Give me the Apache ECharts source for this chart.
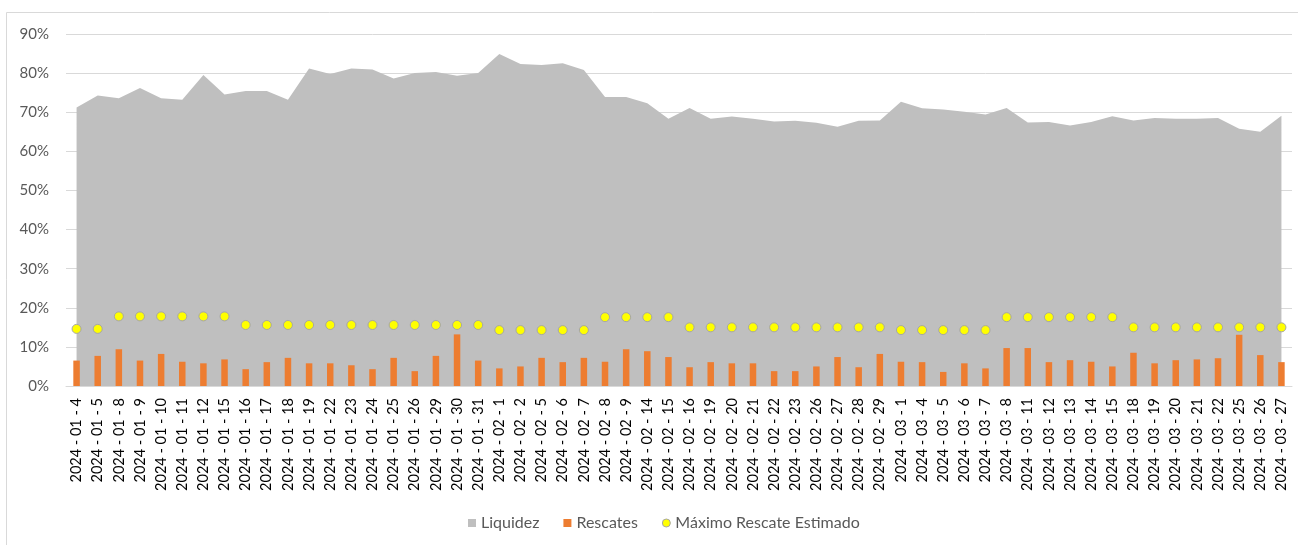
<!DOCTYPE html>
<html>
<head>
<meta charset="utf-8">
<script src="https://cdn.jsdelivr.net/npm/echarts@6/dist/echarts.min.js"></script>
<style>
  html, body { margin: 0; padding: 0; background: #fff; }
  #chart { width: 1298px; height: 545px; }
</style>
</head>
<body>
<div id="chart"></div>
<script>
// fechas (eje x)
const fechas = [
  '2024 - 01 - 4', '2024 - 01 - 5', '2024 - 01 - 8', '2024 - 01 - 9', '2024 - 01 - 10',
  '2024 - 01 - 11', '2024 - 01 - 12', '2024 - 01 - 15', '2024 - 01 - 16', '2024 - 01 - 17',
  '2024 - 01 - 18', '2024 - 01 - 19', '2024 - 01 - 22', '2024 - 01 - 23', '2024 - 01 - 24',
  '2024 - 01 - 25', '2024 - 01 - 26', '2024 - 01 - 29', '2024 - 01 - 30', '2024 - 01 - 31',
  '2024 - 02 - 1', '2024 - 02 - 2', '2024 - 02 - 5', '2024 - 02 - 6', '2024 - 02 - 7',
  '2024 - 02 - 8', '2024 - 02 - 9', '2024 - 02 - 14', '2024 - 02 - 15', '2024 - 02 - 16',
  '2024 - 02 - 19', '2024 - 02 - 20', '2024 - 02 - 21', '2024 - 02 - 22', '2024 - 02 - 23',
  '2024 - 02 - 26', '2024 - 02 - 27', '2024 - 02 - 28', '2024 - 02 - 29', '2024 - 03 - 1',
  '2024 - 03 - 4', '2024 - 03 - 5', '2024 - 03 - 6', '2024 - 03 - 7', '2024 - 03 - 8',
  '2024 - 03 - 11', '2024 - 03 - 12', '2024 - 03 - 13', '2024 - 03 - 14', '2024 - 03 - 15',
  '2024 - 03 - 18', '2024 - 03 - 19', '2024 - 03 - 20', '2024 - 03 - 21', '2024 - 03 - 22',
  '2024 - 03 - 25', '2024 - 03 - 26', '2024 - 03 - 27'
]

// liquidez (%)
const liquidez = [
  71.2, 74.3, 73.6, 76.2, 73.6, 73.2, 79.5, 74.5, 75.4, 75.4,
  73.2, 81.2, 79.8, 81.2, 80.9, 78.6, 80.0, 80.3, 79.3, 80.0,
  84.9, 82.3, 82.1, 82.5, 80.8, 73.9, 73.9, 72.3, 68.3, 71.1,
  68.3, 68.9, 68.3, 67.6, 67.8, 67.3, 66.3, 67.8, 67.9, 72.7,
  71.0, 70.7, 70.1, 69.4, 71.1, 67.4, 67.5, 66.6, 67.5, 69.0,
  67.9, 68.5, 68.3, 68.3, 68.5, 65.8, 65.0, 69.1
]

// rescates (%)
const rescates = [
  6.5, 7.7, 9.4, 6.5, 8.2, 6.2, 5.8, 6.8, 4.3, 6.1,
  7.2, 5.8, 5.8, 5.3, 4.3, 7.2, 3.8, 7.7, 13.2, 6.5,
  4.5, 5.0, 7.2, 6.1, 7.2, 6.2, 9.4, 8.9, 7.4, 4.8,
  6.1, 5.8, 5.8, 3.8, 3.8, 5.0, 7.4, 4.8, 8.2, 6.2,
  6.1, 3.6, 5.8, 4.5, 9.7, 9.7, 6.1, 6.6, 6.2, 5.0,
  8.5, 5.8, 6.6, 6.8, 7.1, 13.1, 7.9, 6.1
]

// máximo rescate estimado (%)
const maxRescate = [
  14.6, 14.6, 17.8, 17.8, 17.8, 17.8, 17.8, 17.8, 15.6, 15.6,
  15.6, 15.6, 15.6, 15.6, 15.6, 15.6, 15.6, 15.6, 15.6, 15.6,
  14.3, 14.3, 14.3, 14.3, 14.3, 17.6, 17.6, 17.6, 17.6, 15.0,
  15.0, 15.0, 15.0, 15.0, 15.0, 15.0, 15.0, 15.0, 15.0, 14.3,
  14.3, 14.3, 14.3, 14.3, 17.6, 17.6, 17.6, 17.6, 17.6, 17.6,
  15.0, 15.0, 15.0, 15.0, 15.0, 15.0, 15.0, 15.0
]

const textColor = '#595959'
const gridColor = '#d9d9d9'

const chart = echarts.init(document.getElementById('chart'))
chart.setOption({
  animation: false,
  backgroundColor: '#fff',
  textStyle: { fontFamily: 'Lato', color: textColor },
  // marco del gráfico
  graphic: [{
    type: 'rect',
    shape: { x: 6.5, y: 12.5, width: 1400, height: 700 },
    style: { fill: null, stroke: gridColor, lineWidth: 1 },
    silent: true
  }],
  grid: { left: 66, right: 6, top: 34, bottom: 159 },
  legend: {
    bottom: 9,
    left: 463,
    itemWidth: 8,
    itemHeight: 8,
    itemGap: 24,
    textStyle: { color: textColor, fontSize: 16, fontFamily: 'Lato' },
    data: [
      { name: 'Liquidez', icon: 'rect' },
      { name: 'Rescates', icon: 'rect' },
      { name: 'Máximo Rescate Estimado', icon: 'circle',
        itemStyle: { color: '#ffff00', borderColor: '#a6a6a6', borderWidth: 1 } }
    ]
  },
  xAxis: {
    type: 'category',
    data: fechas,
    boundaryGap: true,
    axisLine: { lineStyle: { color: gridColor, width: 1 } },
    axisTick: { show: false },
    axisLabel: {
      interval: 0,
      rotate: 90,
      margin: 12,
      color: '#000',
      fontSize: 14.5,
      fontFamily: 'Lato'
    }
  },
  yAxis: {
    type: 'value',
    min: 0,
    max: 90,
    interval: 10,
    axisLine: { show: false },
    axisTick: { show: false },
    axisLabel: { formatter: '{value}%', color: textColor, fontSize: 15, margin: 17 },
    splitLine: { lineStyle: { color: gridColor, width: 1 } }
  },
  series: [
    {
      name: 'Liquidez',
      type: 'line',
      data: liquidez,
      symbol: 'none',
      lineStyle: { width: 0, color: '#bfbfbf' },
      itemStyle: { color: '#bfbfbf' },
      areaStyle: { color: '#bfbfbf', opacity: 1 },
      z: 1
    },
    {
      name: 'Rescates',
      type: 'bar',
      data: rescates,
      barWidth: 6.5,
      itemStyle: { color: '#ed7d31' },
      z: 2
    },
    {
      name: 'Máximo Rescate Estimado',
      type: 'scatter',
      data: maxRescate,
      symbol: 'circle',
      symbolSize: 9,
      itemStyle: { color: '#ffff00', borderColor: '#a6a6a6', borderWidth: 1, opacity: 1 },
      z: 3
    }
  ]
})
</script>
</body>
</html>
